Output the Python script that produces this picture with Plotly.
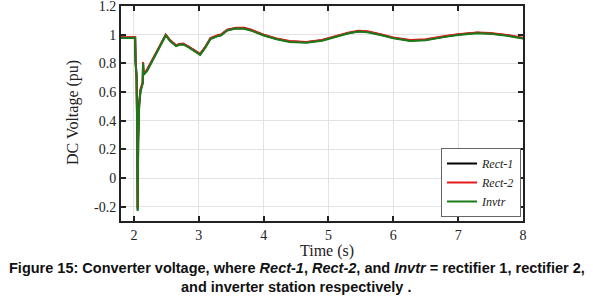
import plotly.graph_objects as go

# Time axis (s)
time_s = [1.8, 2.0, 2.018, 2.025, 2.04, 2.05, 2.057, 2.065, 2.08, 2.1, 2.12, 2.135,
          2.14, 2.148, 2.16, 2.2, 2.3, 2.4, 2.49, 2.56, 2.65, 2.7, 2.76, 2.85, 2.95,
          3.02, 3.1, 3.18, 3.29, 3.34, 3.44, 3.57, 3.7, 3.8, 4.0, 4.2, 4.4, 4.66,
          4.9, 5.1, 5.3, 5.46, 5.6, 5.8, 6.0, 6.26, 6.5, 6.8, 7.0, 7.29, 7.5, 7.75, 8.0]

# DC voltage (pu)
invtr = [0.978, 0.978, 0.978, 0.80, 0.70, 0.30, -0.23, 0.25, 0.50, 0.60, 0.64, 0.66,
         0.80, 0.72, 0.725, 0.745, 0.83, 0.92, 0.995, 0.955, 0.92, 0.93, 0.932, 0.91, 0.88,
         0.86, 0.91, 0.97, 0.99, 0.995, 1.03, 1.043, 1.042, 1.03, 0.995, 0.968, 0.95, 0.944,
         0.958, 0.985, 1.008, 1.022, 1.018, 0.998, 0.975, 0.957, 0.962, 0.985, 0.998, 1.01, 1.006, 0.993, 0.973]

rect1 = [0.980, 0.980, 0.980, 0.81, 0.71, 0.32, -0.22, 0.27, 0.51, 0.61, 0.645, 0.665,
         0.805, 0.725, 0.73, 0.75, 0.835, 0.925, 0.998, 0.958, 0.923, 0.933, 0.935, 0.913, 0.883,
         0.863, 0.913, 0.973, 0.993, 0.998, 1.033, 1.046, 1.045, 1.033, 0.998, 0.971, 0.953, 0.947,
         0.961, 0.988, 1.011, 1.025, 1.021, 1.001, 0.978, 0.960, 0.965, 0.988, 1.001, 1.013, 1.009, 0.996, 0.976]

rect2 = [0.982, 0.982, 0.982, 0.82, 0.72, 0.34, -0.21, 0.29, 0.52, 0.62, 0.65, 0.67,
         0.81, 0.73, 0.735, 0.755, 0.84, 0.93, 1.001, 0.961, 0.926, 0.936, 0.938, 0.916, 0.886,
         0.866, 0.916, 0.976, 0.996, 1.001, 1.036, 1.049, 1.048, 1.036, 1.001, 0.974, 0.956, 0.950,
         0.964, 0.991, 1.014, 1.028, 1.024, 1.004, 0.981, 0.963, 0.968, 0.991, 1.004, 1.016, 1.012, 0.999, 0.979]

series_names = ["Rect-1", "Rect-2", "Invtr"]
x_ticks = [2, 3, 4, 5, 6, 7, 8]
y_ticks = [-0.2, 0, 0.2, 0.4, 0.6, 0.8, 1, 1.2]
y_tick_text = ["-0.2", "0", "0.2", "0.4", "0.6", "0.8", "1", "1.2"]

W, H = 593, 301
L, R, T, B = 121, 70, 6, 80
PW, PH = W - L - R, H - T - B


def px_x(x):
    return (x - L) / PW


def px_y(y):
    return (H - B - y) / PH


fig = go.Figure()
for name, vals, col in [(series_names[0], rect1, "#000000"),
                        (series_names[1], rect2, "#e41a1c"),
                        (series_names[2], invtr, "#1a7a1a")]:
    fig.add_trace(go.Scatter(x=time_s, y=vals, mode="lines", name=name,
                             line=dict(color=col, width=2)))

serif = "Liberation Serif"
axis_common = dict(showline=True, linecolor="#222222", linewidth=2, mirror="allticks",
                   ticks="inside", ticklen=5, tickwidth=1.5, tickcolor="#222222",
                   showgrid=True, gridcolor="#e3e3e3", gridwidth=1, zeroline=False,
                   automargin=False, ticklabeloverflow="allow",
                   tickfont=dict(family=serif, size=14, color="#222222"))

fig.update_xaxes(range=[1.8, 8.0], tickvals=x_ticks, **axis_common)
fig.update_yaxes(range=[-0.3, 1.2005], tickvals=y_ticks, ticktext=y_tick_text, **axis_common)

sans = "Liberation Sans"
fig.update_layout(
    width=W, height=H,
    margin=dict(l=L, r=R, t=T, b=B),
    paper_bgcolor="white", plot_bgcolor="white",
    showlegend=True,
    legend=dict(x=0.995, y=px_y(217), xanchor="right", yanchor="bottom",
                bgcolor="white", bordercolor="#666666", borderwidth=1,
                font=dict(family=serif, size=12, color="#222222", style="italic"),
                tracegroupgap=0),
    annotations=[
        dict(text="DC Voltage (pu)", x=px_x(73), y=px_y(113), xref="paper", yref="paper",
             textangle=-90, xanchor="center", yanchor="middle", showarrow=False,
             font=dict(family=serif, size=16, color="#222222")),
        dict(text="Time (s)", x=px_x(327), y=px_y(251), xref="paper", yref="paper",
             xanchor="center", yanchor="middle", showarrow=False,
             font=dict(family=serif, size=16, color="#222222")),
        dict(text="<b>Figure 15: Converter voltage, where <i>Rect-1</i>, <i>Rect-2</i>, and <i>Invtr</i> = rectifier 1, rectifier 2,</b>",
             x=px_x(297), y=px_y(268), xref="paper", yref="paper",
             xanchor="center", yanchor="middle", showarrow=False,
             font=dict(family=sans, size=14.5, color="#111111")),
        dict(text="<b>and inverter station respectively .</b>",
             x=px_x(296), y=px_y(287), xref="paper", yref="paper",
             xanchor="center", yanchor="middle", showarrow=False,
             font=dict(family=sans, size=14.5, color="#111111")),
    ],
)

fig.write_html("out.html", config={"displayModeBar": False},
               post_script="document.body.style.margin='0';")
